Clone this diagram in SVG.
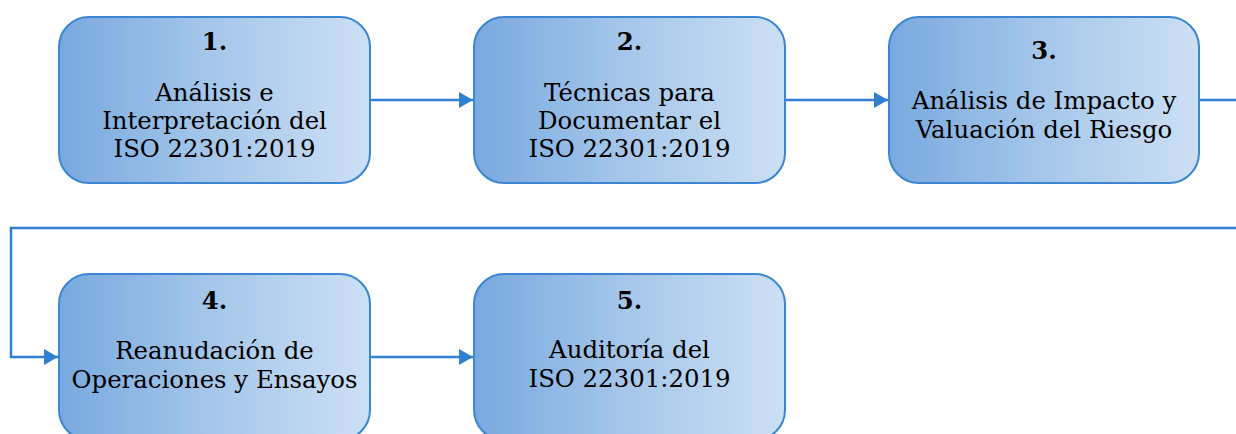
<svg xmlns="http://www.w3.org/2000/svg" width="1236" height="434" viewBox="0 0 1236 434">
<defs>
<linearGradient id="g" x1="0" y1="0" x2="1" y2="0">
<stop offset="0" stop-color="#78A9DF"/>
<stop offset="0.5" stop-color="#A6C7EA"/>
<stop offset="1" stop-color="#CCE0F4"/>
</linearGradient>
<marker id="ah" viewBox="0 0 14 16" refX="14" refY="8" markerWidth="14" markerHeight="16" markerUnits="userSpaceOnUse" orient="auto">
<path d="M0,0 L14,8 L0,16 Z" fill="#2F80D1"/>
</marker>
<style>
.box{fill:url(#g);stroke:#3A86D3;stroke-width:2}
.t{font-family:"DejaVu Serif",serif;font-size:24.4px;fill:#000;text-anchor:middle}
.n{font-weight:bold}
.c{fill:none;stroke:#2F80D1;stroke-width:2.5}
</style>
</defs>
<g id="connectors">
<path class="c" d="M370,100 H473" marker-end="url(#ah)"/>
<path class="c" d="M785,100 H888" marker-end="url(#ah)"/>
<path class="c" d="M1199,100 H1236"/>
<path class="c" d="M1236,228 H11 V357 H58" marker-end="url(#ah)"/>
<path class="c" d="M370,357 H473" marker-end="url(#ah)"/>
</g>
<g id="node1">
<rect class="box" x="59" y="17" width="311" height="166" rx="30"/>
<text class="t n" x="214.5" y="50">1.</text>
<text class="t" x="214.5" y="101">Análisis e</text>
<text class="t" x="214.5" y="129">Interpretación del</text>
<text class="t" x="214.5" y="157">ISO 22301:2019</text>
</g>
<g id="node2">
<rect class="box" x="474" y="17" width="311" height="166" rx="30"/>
<text class="t n" x="629.5" y="50">2.</text>
<text class="t" x="629.5" y="101">Técnicas para</text>
<text class="t" x="629.5" y="129">Documentar el</text>
<text class="t" x="629.5" y="157">ISO 22301:2019</text>
</g>
<g id="node3">
<rect class="box" x="889" y="17" width="310" height="166" rx="30"/>
<text class="t n" x="1044" y="59">3.</text>
<text class="t" x="1044" y="109">Análisis de Impacto y</text>
<text class="t" x="1044" y="138">Valuación del Riesgo</text>
</g>
<g id="node4">
<rect class="box" x="59" y="274" width="311" height="166" rx="30"/>
<text class="t n" x="214.5" y="309">4.</text>
<text class="t" x="214.5" y="359">Reanudación de</text>
<text class="t" x="214.5" y="388">Operaciones y Ensayos</text>
</g>
<g id="node5">
<rect class="box" x="474" y="274" width="311" height="166" rx="30"/>
<text class="t n" x="629.5" y="309">5.</text>
<text class="t" x="629.5" y="358">Auditoría del</text>
<text class="t" x="629.5" y="387">ISO 22301:2019</text>
</g>
</svg>
